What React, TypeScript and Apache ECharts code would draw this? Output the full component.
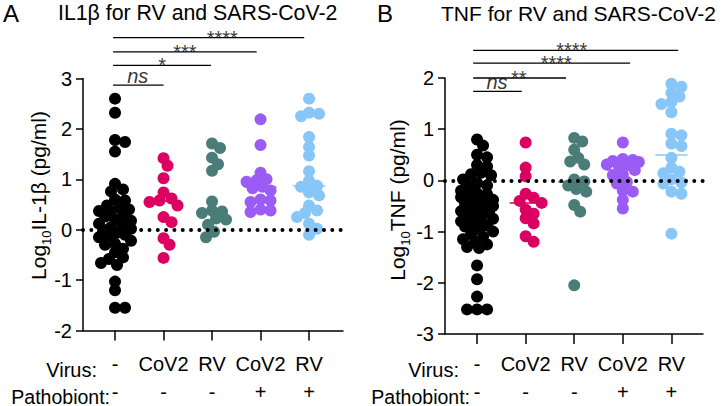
import React, { useEffect, useRef } from 'react';
import * as echarts from 'echarts';

// ---------- data ----------
const virusLabels = ['-', 'CoV2', 'RV', 'CoV2', 'RV'];
const pathobiontLabels = ['-', '-', '-', '+', '+'];
const groupColors = ['#000000', '#DC0062', '#4A7D78', '#9B5CF5', '#88C6F8'];

// Panel A: Log10 IL-1β (pg/ml)
const il1bNone = [2.6, 2.32, 1.78, 1.74, 1.55, 0.91, 0.8, 0.76, 0.6, 0.58, 0.48, 0.44, 0.4, 0.37, 0.36, 0.3, 0.26, 0.2, 0.18, 0.12, 0.08, 0.05, 0.02, -0.03, -0.06, -0.1, -0.12, -0.15, -0.22, -0.28, -0.3, -0.38, -0.45, -0.55, -0.58, -0.66, -0.7, -1.03, -1.2, -1.55, -1.55];
const il1bCoV2 = [1.42, 1.27, 1.02, 0.74, 0.62, 0.58, 0.55, 0.48, 0.25, 0.15, -0.17, -0.3, -0.56];
const il1bRV = [1.71, 1.62, 1.43, 1.3, 1.17, 0.56, 0.38, 0.36, 0.33, 0.22, 0.2, 0.1, -0.04, -0.15];
const il1bCoV2Patho = [2.19, 1.68, 1.13, 1.0, 0.98, 0.95, 0.85, 0.82, 0.78, 0.6, 0.58, 0.55, 0.4, 0.38, 0.35];
const il1bRVPatho = [2.6, 2.32, 2.3, 2.25, 1.84, 1.64, 1.47, 1.16, 0.97, 0.87, 0.85, 0.74, 0.68, 0.48, 0.38, 0.33, 0.25, 0.12, 0.02, -0.1];
const il1bCenters = [0.1, 0.58, 0.36, 0.85, 0.87];

// Panel B: Log10 TNF (pg/ml)
const tnfNone = [0.8, 0.68, 0.5, 0.45, 0.3, 0.27, 0.15, 0.12, 0.1, 0.02, -0.05, -0.1, -0.12, -0.2, -0.25, -0.27, -0.3, -0.33, -0.38, -0.4, -0.42, -0.45, -0.48, -0.5, -0.55, -0.58, -0.6, -0.62, -0.65, -0.7, -0.72, -0.75, -0.78, -0.8, -0.85, -0.88, -0.9, -0.95, -1.0, -1.05, -1.1, -1.15, -1.2, -1.25, -1.3, -1.32, -1.66, -1.93, -2.27, -2.52, -2.52, -2.52];
const tnfCoV2 = [0.74, 0.25, 0.08, -0.26, -0.34, -0.4, -0.44, -0.57, -0.65, -0.74, -0.84, -1.09, -1.2];
const tnfRV = [0.83, 0.76, 0.6, 0.44, 0.37, 0.31, 0.02, -0.02, -0.1, -0.17, -0.22, -0.48, -0.61, -2.05];
const tnfCoV2Patho = [0.74, 0.42, 0.4, 0.38, 0.36, 0.31, 0.3, 0.28, 0.2, 0.12, 0.1, -0.03, -0.06, -0.2, -0.22, -0.38, -0.55];
const tnfRVPatho = [1.89, 1.83, 1.71, 1.64, 1.53, 1.49, 1.33, 0.91, 0.88, 0.72, 0.67, 0.44, 0.25, 0.17, 0.14, 0.02, -0.04, -0.06, -0.22, -0.26, -1.04];
const tnfCenters = [-0.69, -0.44, -0.02, 0.2, 0.5];

// significance brackets
const il1bSigLabels = ['ns', '*', '***', '****'];
const il1bSigEnds = [1.0, 1.98, 2.92, 3.9];
const il1bSigLevels = [2.87, 3.26, 3.53, 3.81];
const il1bSigTextX = [0.47, 0.97, 1.44, 2.21];
const il1bSigStart = -0.04;

const tnfSigLabels = ['ns', '**', '****', '****'];
const tnfSigEnds = [0.92, 1.83, 3.15, 4.14];
const tnfSigLevels = [1.74, 2.0, 2.29, 2.54];
const tnfSigTextX = [0.41, 0.86, 1.63, 1.95];
const tnfSigStart = -0.08;

const il1bTicks = { min: -2, max: 3 };
const tnfTicks = { min: -3, max: 2 };

// ---------- layout ----------
const FONT = 'Liberation Sans, Arial, sans-serif';
const DOT = 12;
const panels = [
  {
    groups: [il1bNone, il1bCoV2, il1bRV, il1bCoV2Patho, il1bRVPatho],
    centers: il1bCenters,
    sig: { labels: il1bSigLabels, ends: il1bSigEnds, levels: il1bSigLevels, textX: il1bSigTextX, start: il1bSigStart },
    y: il1bTicks,
    xMin: -0.66, xMax: 4.7,
    grid: { left: 83, top: 78.5, width: 260, height: 257.5 },
    name: 'Log{sub|10}IL-1β (pg/ml)',
    nameGap: 30, namePad: 18, labelMargin: 19.5,
  },
  {
    groups: [tnfNone, tnfCoV2, tnfRV, tnfCoV2Patho, tnfRVPatho],
    centers: tnfCenters,
    sig: { labels: tnfSigLabels, ends: tnfSigEnds, levels: tnfSigLevels, textX: tnfSigTextX, start: tnfSigStart },
    y: tnfTicks,
    xMin: -0.66, xMax: 4.65,
    grid: { left: 445, top: 78, width: 258, height: 262 },
    name: 'Log{sub|10}TNF (pg/ml)',
    nameGap: 33, namePad: 12, labelMargin: 16,
  },
];

// simple bounded beeswarm layout (pixel space) -> x offsets in axis units
function swarm(values: number[], pxPerY: number, pxPerX: number): number[] {
  const placed: { x: number; y: number }[] = [];
  const order = values.map((_, i) => i).sort((a, b) => values[b] - values[a]);
  const offsets = new Array(values.length).fill(0);
  const step = 2;
  const maxOff = 17;
  const minDist = DOT * 0.72;
  const cands: number[] = [0];
  for (let s = step; s <= maxOff; s += step) cands.push(s, -s);
  for (const i of order) {
    const y = values[i] * pxPerY;
    let chosen: number | null = null;
    let best = 0;
    let bestD = -1;
    for (const c of cands) {
      let dmin = Infinity;
      for (const p of placed) dmin = Math.min(dmin, Math.hypot(p.x - c, p.y - y));
      if (dmin >= minDist) { chosen = c; break; }
      if (dmin > bestD) { bestD = dmin; best = c; }
    }
    const x = chosen === null ? best : chosen;
    placed.push({ x, y });
    offsets[i] = x / pxPerX;
  }
  return offsets;
}

function buildOption() {
  const grids: any[] = [];
  const xAxes: any[] = [];
  const yAxes: any[] = [];
  const series: any[] = [];
  const graphics: any[] = [];

  panels.forEach((p, pi) => {
    grids.push({ ...p.grid, containLabel: false });
    const pxPerY = p.grid.height / (p.y.max - p.y.min);
    const pxPerX = p.grid.width / (p.xMax - p.xMin);
    xAxes.push({
      type: 'value', gridIndex: pi, min: p.xMin, max: p.xMax,
      axisLine: { show: true, onZero: false, lineStyle: { color: '#000', width: 1.5 } },
      axisTick: { show: true, customValues: [0, 1, 2, 3, 4], length: 10, lineStyle: { color: '#000', width: 1.5 } },
      axisLabel: {
        show: true, customValues: [0, 1, 2, 3, 4], margin: p.labelMargin,
        formatter: (v: number) => {
          const i = Math.round(v);
          return virusLabels[i] + '\n' + pathobiontLabels[i];
        },
        color: '#000', fontSize: 20, fontFamily: FONT, lineHeight: 28,
      },
      splitLine: { show: false },
    });
    yAxes.push({
      type: 'value', gridIndex: pi, min: p.y.min, max: p.y.max, interval: 1,
      axisLine: { show: true, onZero: false, lineStyle: { color: '#000', width: 1.5 } },
      axisTick: { show: true, length: 7, lineStyle: { color: '#000', width: 1.5 } },
      axisLabel: { color: '#000', fontSize: 20, fontFamily: FONT, margin: 11 },
      splitLine: { show: false },
      name: p.name, nameLocation: 'middle', nameGap: p.nameGap, nameMoveOverlap: false,
      nameTextStyle: {
        color: '#000', fontSize: 21, fontFamily: FONT, padding: [0, 0, 0, p.namePad],
        rich: { sub: { fontSize: 13, fontFamily: FONT, color: '#000', verticalAlign: 'bottom', lineHeight: 30 } },
      },
    });

    p.groups.forEach((vals, gi) => {
      const offs = swarm(vals, pxPerY, pxPerX);
      series.push({
        type: 'scatter', xAxisIndex: pi, yAxisIndex: pi, z: 2,
        symbol: 'circle', symbolSize: DOT, clip: false,
        itemStyle: { color: groupColors[gi], opacity: 1 },
        data: vals.map((v, j) => [gi + offs[j], v]),
        silent: true,
        markLine: {
          silent: true, symbol: 'none', label: { show: false }, z: 4,
          lineStyle: { color: groupColors[gi], width: 1.5, type: 'solid' },
          data: [[{ coord: [gi - 0.33, p.centers[gi]] }, { coord: [gi + 0.33, p.centers[gi]] }]],
        },
      });
    });

    // zero dotted line
    series.push({
      type: 'scatter', xAxisIndex: pi, yAxisIndex: pi, z: 5, data: [], silent: true,
      markLine: {
        silent: true, symbol: 'none', label: { show: false },
        lineStyle: { color: '#000', width: 4, type: [0.01, 8.3], cap: 'round' },
        data: [{ yAxis: 0 }],
      },
    });

    // significance bracket lines (drawn above the plot area, so clip off)
    p.sig.labels.forEach((_, k) => {
      series.push({
        type: 'line', xAxisIndex: pi, yAxisIndex: pi, z: 5, silent: true, clip: false,
        symbol: 'none', lineStyle: { color: '#000', width: 1.3 },
        data: [[p.sig.start, p.sig.levels[k]], [p.sig.ends[k], p.sig.levels[k]]],
      });
    });

    // significance texts
    series.push({
      type: 'scatter', xAxisIndex: pi, yAxisIndex: pi, z: 5, silent: true, clip: false,
      symbolSize: 0,
      data: p.sig.labels.map((l, k) => ({
        value: [p.sig.textX[k], p.sig.levels[k]], name: l,
        label: l === 'ns' ? { fontStyle: 'italic', offset: [0, -9], lineHeight: 14 } : {},
      })),
      label: { show: true, position: 'inside', formatter: '{b}', color: '#000', fontSize: 20, fontFamily: FONT, lineHeight: 9 },
    });
  });

  const txt = (x: number, y: number, text: string, size: number, align: string, lh?: number) => ({
    type: 'text', x, y,
    style: { text, fill: '#000', fontSize: size, fontFamily: FONT, align, verticalAlign: 'middle', lineHeight: lh || size },
  });
  graphics.push(txt(3, 13, 'A', 24, 'left'));
  graphics.push(txt(58, 13, 'IL1β for RV and SARS-CoV-2', 21.3, 'left'));
  graphics.push(txt(377, 13, 'B', 24, 'left'));
  graphics.push(txt(441, 13, 'TNF for RV and SARS-CoV-2', 21, 'left'));
  graphics.push(txt(97, 369.5, 'Virus:', 20, 'right'));
  graphics.push(txt(110, 396.5, 'Pathobiont:', 19.5, 'right', 16));
  graphics.push(txt(459, 370, 'Virus:', 20, 'right'));
  graphics.push(txt(470, 396.5, 'Pathobiont:', 19.5, 'right', 16));

  return {
    animation: false,
    backgroundColor: '#ffffff',
    grid: grids,
    xAxis: xAxes,
    yAxis: yAxes,
    series,
    graphic: graphics,
  };
}

export default function App() {
  const ref = useRef<HTMLDivElement>(null);
  useEffect(() => {
    if (!ref.current) return;
    const chart = echarts.init(ref.current, undefined, { renderer: 'svg' });
    chart.setOption(buildOption() as any);
    return () => chart.dispose();
  }, []);
  return (
    <div
      ref={ref}
      style={{ position: 'fixed', left: 0, top: 0, width: 721, height: 406, background: '#fff' }}
    />
  );
}
